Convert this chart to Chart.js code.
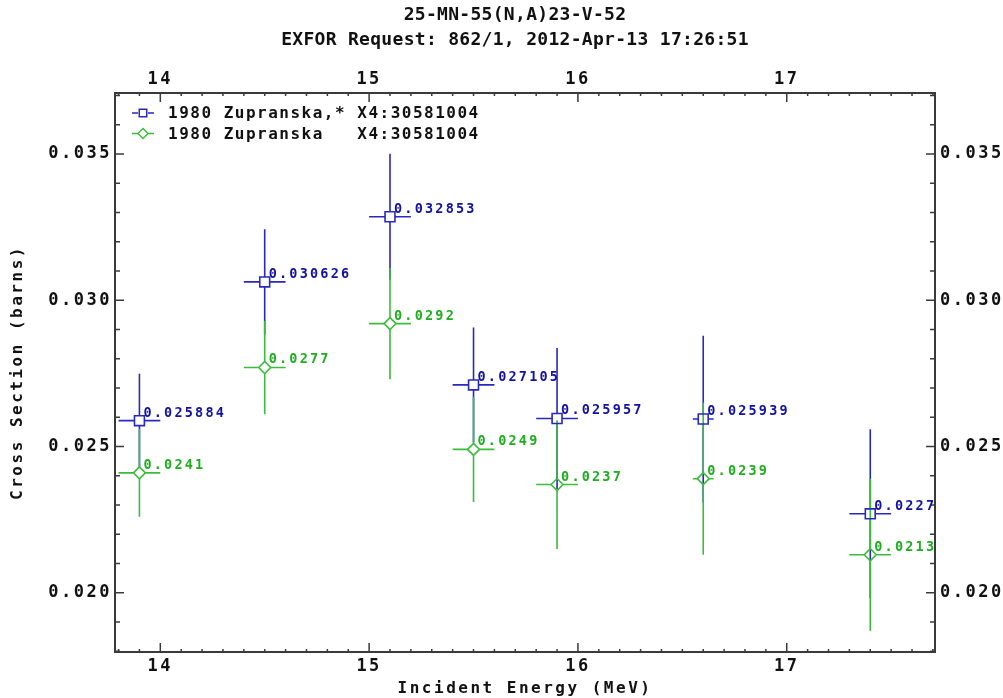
<!DOCTYPE html>
<html>
<head>
<meta charset="utf-8">
<title>25-MN-55(N,A)23-V-52</title>
<script src="https://cdn.jsdelivr.net/npm/chart.js@4.4.1/dist/chart.umd.min.js"></script>
<style>
  html, body { margin: 0; padding: 0; background: #fff; }
  canvas { display: block; }
</style>
</head>
<body>
<canvas id="chart" width="1003" height="698"></canvas>
<script>
'use strict'

const titleLines = ['25-MN-55(N,A)23-V-52', 'EXFOR Request: 862/1, 2012-Apr-13 17:26:51']
const seriesNames = ['1980 Zupranska,* X4:30581004', '1980 Zupranska   X4:30581004']

// incident energy (MeV) and its half-width
const energy = [13.9, 14.5, 15.1, 15.5, 15.9, 16.6, 17.4]
const energyErr = [0.1, 0.1, 0.1, 0.1, 0.1, 0.05, 0.1]

// cross sections (barns) with their uncertainties
const xsStar = [0.025884, 0.030626, 0.032853, 0.027105, 0.025957, 0.025939, 0.0227]
const xsStarErr = [0.0016, 0.0018, 0.00215, 0.00196, 0.00241, 0.00285, 0.00289]
const xsPlain = [0.0241, 0.0277, 0.0292, 0.0249, 0.0237, 0.0239, 0.0213]
const xsPlainErr = [0.0015, 0.0016, 0.0019, 0.0018, 0.0022, 0.0026, 0.0026]

// axis ranges and tick steps
const xRange = [13.783, 17.71]
const yRange = [0.017976, 0.037082]
const xTicks = { major: 1, minor: 0.1 }
const yTicks = { major: 0.005, minor: 0.001 }

const BLUE = '#2929bd'
const BLUE_TEXT = '#1212a2'
const GREEN = '#3cbc3c'
const GREEN_TEXT = '#1fae1f'
const AXIS = '#3a3a3a'
const MONO = '"DejaVu Sans Mono", monospace'

const toPoints = ys => energy.map((x, i) => ({ x, y: ys[i] }))

// the wide, spaced-out look of the old plot fonts
const letterSpacing = {
  id: 'letterSpacing',
  beforeDraw: chart => { chart.ctx.letterSpacing = '2.5px' }
}

// inward tick marks on all four sides
const innerTicks = {
  id: 'innerTicks',
  beforeDatasetsDraw: chart => {
    const ctx = chart.ctx
    const { left, right, top, bottom } = chart.chartArea
    ctx.save()
    ctx.strokeStyle = AXIS
    ctx.lineWidth = 1.5
    ctx.beginPath()
    const x = chart.scales.x
    const ratioX = Math.round(xTicks.major / xTicks.minor)
    for (let k = Math.ceil(xRange[0] / xTicks.minor); k * xTicks.minor <= xRange[1]; k++) {
      const px = x.getPixelForValue(k * xTicks.minor)
      const len = k % ratioX === 0 ? 9 : 3
      ctx.moveTo(px, bottom); ctx.lineTo(px, bottom - len)
      ctx.moveTo(px, top); ctx.lineTo(px, top + len)
    }
    const y = chart.scales.y
    const ratioY = Math.round(yTicks.major / yTicks.minor)
    for (let k = Math.ceil(yRange[0] / yTicks.minor - 1e-9); k * yTicks.minor <= yRange[1] + 1e-12; k++) {
      const py = y.getPixelForValue(k * yTicks.minor)
      const len = k % ratioY === 0 ? 9 : 5
      ctx.moveTo(left, py); ctx.lineTo(left + len, py)
      ctx.moveTo(right, py); ctx.lineTo(right - len, py)
    }
    ctx.stroke()
    ctx.restore()
  }
}

// error bars, broken where the hollow marker sits
const errorBars = {
  id: 'errorBars',
  beforeDatasetsDraw: chart => {
    const ctx = chart.ctx
    const xs = chart.scales.x
    const ys = chart.scales.y
    ctx.save()
    ctx.lineWidth = 1.6
    chart.data.datasets.forEach(ds => {
      ctx.strokeStyle = ds.borderColor
      const gap = ds.barGap
      ctx.beginPath()
      ds.data.forEach((p, j) => {
        const cx = xs.getPixelForValue(p.x)
        const cy = ys.getPixelForValue(p.y)
        const x0 = xs.getPixelForValue(p.x - ds.xErr[j])
        const x1 = xs.getPixelForValue(p.x + ds.xErr[j])
        const y0 = ys.getPixelForValue(p.y + ds.yErr[j])
        const y1 = ys.getPixelForValue(p.y - ds.yErr[j])
        ctx.moveTo(x0, cy); ctx.lineTo(cx - gap, cy)
        ctx.moveTo(cx + gap, cy); ctx.lineTo(x1, cy)
        ctx.moveTo(cx, y0); ctx.lineTo(cx, cy - gap)
        ctx.moveTo(cx, cy + gap); ctx.lineTo(cx, y1)
      })
      ctx.stroke()
    })
    ctx.restore()
  }
}

// value labels, title lines and the boxed legend
const annotations = {
  id: 'annotations',
  afterDraw: chart => {
    const ctx = chart.ctx
    const xs = chart.scales.x
    const ys = chart.scales.y
    const { left, top } = chart.chartArea

    ctx.save()
    ctx.letterSpacing = '2.2px'
    ctx.font = 'bold 13.5px ' + MONO
    ctx.textAlign = 'left'
    ctx.textBaseline = 'alphabetic'
    chart.data.datasets.forEach(ds => {
      ctx.fillStyle = ds.labelColor
      ds.data.forEach(p => {
        ctx.fillText(String(p.y), xs.getPixelForValue(p.x) + 4, ys.getPixelForValue(p.y) - 4)
      })
    })

    ctx.fillStyle = '#111'
    ctx.textAlign = 'center'
    ctx.textBaseline = 'middle'
    ctx.letterSpacing = '0.3px'
    ctx.font = 'bold 18px ' + MONO
    titleLines.forEach((t, i) => ctx.fillText(t, 515, 15 + i * 25))

    ctx.letterSpacing = '1.5px'
    ctx.font = 'bold 16px ' + MONO
    ctx.textAlign = 'left'
    chart.data.datasets.forEach((ds, i) => {
      const ly = top + 20 + i * 20.5
      const mx = left + 28
      ctx.strokeStyle = ds.borderColor
      ctx.fillStyle = '#fff'
      ctx.lineWidth = 1.5
      ctx.beginPath()
      ctx.moveTo(left + 17, ly); ctx.lineTo(mx - 5, ly)
      ctx.moveTo(mx + 5, ly); ctx.lineTo(left + 39, ly)
      ctx.stroke()
      Chart.helpers.drawPoint(ctx, {
        pointStyle: ds.pointStyle,
        radius: ds.pointStyle === 'rect' ? 5.3 : 5,
        borderWidth: 1.5,
        rotation: 0
      }, mx, ly)
      ctx.fillStyle = '#111'
      ctx.fillText(seriesNames[i], left + 53, ly + 1)
    })
    ctx.restore()
  }
}

const ctx = document.getElementById('chart')

const tickFont = { family: MONO, size: 17, weight: 'bold' }
const titleFont = { family: MONO, size: 16, weight: 'bold' }

const exforChart = new Chart(ctx, {
  type: 'scatter',
  data: {
    datasets: [{
      label: seriesNames[0],
      data: toPoints(xsStar),
      xErr: energyErr,
      yErr: xsStarErr,
      barGap: 5,
      labelColor: BLUE_TEXT,
      borderColor: BLUE,
      backgroundColor: 'rgba(0,0,0,0)',
      pointStyle: 'rect',
      pointRadius: 7,
      pointBorderWidth: 1.6
    },
    {
      label: seriesNames[1],
      data: toPoints(xsPlain),
      xErr: energyErr,
      yErr: xsPlainErr,
      barGap: 6,
      labelColor: GREEN_TEXT,
      borderColor: GREEN,
      backgroundColor: 'rgba(0,0,0,0)',
      pointStyle: 'rectRot',
      pointRadius: 6,
      pointBorderWidth: 1.6
    }]
  },
  options: {
    responsive: false,
    animation: false,
    events: [],
    layout: { padding: 0 },
    plugins: {
      legend: { display: false },
      tooltip: { enabled: false },
      title: { display: false }
    },
    scales: {
      x: {
        type: 'linear',
        position: 'bottom',
        min: xRange[0],
        max: xRange[1],
        afterFit: s => { s.height = 46 },
        grid: { display: false, drawTicks: false },
        border: { display: true, color: AXIS, width: 2 },
        ticks: {
          stepSize: xTicks.major,
          includeBounds: false,
          maxRotation: 0,
          padding: 4,
          color: '#111',
          font: tickFont
        },
        title: {
          display: true,
          text: 'Incident Energy (MeV)',
          color: '#111',
          padding: { top: 0, bottom: 0 },
          font: titleFont
        }
      },
      x2: {
        type: 'linear',
        position: 'top',
        min: xRange[0],
        max: xRange[1],
        afterFit: s => { s.height = 93 },
        grid: { display: false, drawTicks: false },
        border: { display: true, color: AXIS, width: 2 },
        ticks: {
          stepSize: xTicks.major,
          includeBounds: false,
          maxRotation: 0,
          padding: 3,
          color: '#111',
          font: tickFont
        }
      },
      y: {
        type: 'linear',
        position: 'left',
        min: yRange[0],
        max: yRange[1],
        afterFit: s => { s.width = 115 },
        grid: { display: false, drawTicks: false },
        border: { display: true, color: AXIS, width: 2 },
        ticks: {
          stepSize: yTicks.major,
          includeBounds: false,
          padding: 3,
          color: '#111',
          font: tickFont,
          callback: v => v.toFixed(3)
        },
        title: {
          display: true,
          text: 'Cross Section (barns)',
          color: '#111',
          padding: { top: 8, bottom: 0 },
          font: titleFont
        }
      },
      y2: {
        type: 'linear',
        position: 'right',
        min: yRange[0],
        max: yRange[1],
        afterFit: s => { s.width = 68 },
        grid: { display: false, drawTicks: false },
        border: { display: true, color: AXIS, width: 2 },
        ticks: {
          stepSize: yTicks.major,
          includeBounds: false,
          padding: 5,
          color: '#111',
          font: tickFont,
          callback: v => v.toFixed(3)
        }
      }
    }
  },
  plugins: [letterSpacing, innerTicks, errorBars, annotations]
})
</script>
</body>
</html>
